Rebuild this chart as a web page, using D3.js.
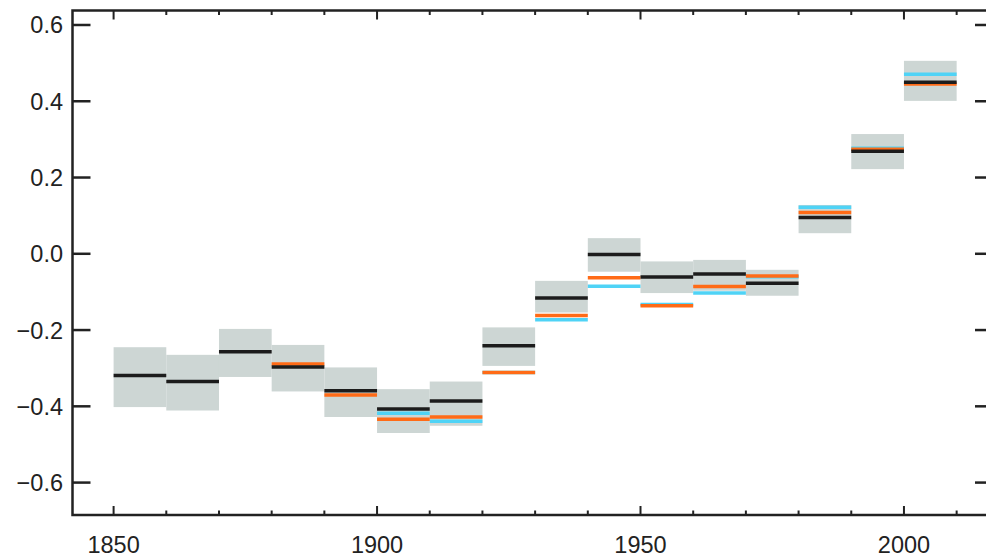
<!DOCTYPE html>
<html>
<head>
<meta charset="utf-8">
<script src="https://cdn.jsdelivr.net/npm/d3@7"></script>
<style>
  body { margin: 0; background: #fff; }
  svg { display: block; }
  text { font-family: "Liberation Sans", Arial, sans-serif; fill: #222; }
</style>
</head>
<body>
<div class="canvas"></div>
<script>
// decadal values (start year of each decade)
const decades = [1850, 1860, 1870, 1880, 1890, 1900, 1910, 1920, 1930, 1940, 1950, 1960, 1970, 1980, 1990, 2000];
const bandTop = [-0.245, -0.265, -0.197, -0.239, -0.298, -0.355, -0.335, -0.193, -0.071, 0.041, -0.020, -0.016, -0.042, 0.128, 0.314, 0.506];
const bandBottom = [-0.402, -0.411, -0.323, -0.361, -0.428, -0.470, -0.451, -0.294, -0.154, -0.047, -0.103, -0.097, -0.110, 0.054, 0.222, 0.401];
const blackSeries = [-0.319, -0.335, -0.257, -0.297, -0.359, -0.407, -0.386, -0.241, -0.116, -0.002, -0.061, -0.053, -0.077, 0.095, 0.269, 0.450];
const orangeSeries = [null, null, null, -0.289, -0.370, -0.434, -0.428, -0.311, -0.162, -0.063, -0.136, -0.086, -0.058, 0.108, 0.274, 0.445];
const cyanSeries = [null, null, null, null, null, -0.418, -0.439, -0.311, -0.173, -0.085, -0.133, -0.103, -0.060, 0.122, 0.277, 0.471];

const yTicks = [-0.6, -0.4, -0.2, 0.0, 0.2, 0.4, 0.6];
const xMajor = [1850, 1900, 1950, 2000];
const xMinor = d3.range(1850, 2011, 10);

const dims = { width: 986, height: 559 };
const plot = { left: 72.5, right: 993, top: 10.5, bottom: 515 };

const svg = d3
    .select(".canvas")
    .append("svg")
    .attr("width", dims.width)
    .attr("height", dims.height);

const x = d3.scaleLinear().domain([1842.2, 2016.9]).range([plot.left, plot.right]);
const y = d3.scaleLinear().domain([-0.685, 0.638]).range([plot.bottom, plot.top]);

const rows = decades.map((d, i) => ({
    year: d,
    top: bandTop[i],
    bottom: bandBottom[i],
    black: blackSeries[i],
    orange: orangeSeries[i],
    cyan: cyanSeries[i]
}));

// uncertainty boxes
svg.append("g")
    .selectAll("rect")
    .data(rows)
    .join("rect")
    .attr("x", (d) => x(d.year))
    .attr("width", (d) => x(d.year + 10) - x(d.year))
    .attr("y", (d) => y(d.top))
    .attr("height", (d) => y(d.bottom) - y(d.top))
    .attr("fill", "#cdd6d4");

// decade lines: cyan, then orange, then black on top
const drawLines = (key, colour) => {
    svg.append("g")
        .selectAll("line")
        .data(rows.filter((d) => d[key] !== null))
        .join("line")
        .attr("x1", (d) => x(d.year))
        .attr("x2", (d) => x(d.year + 10))
        .attr("y1", (d) => y(d[key]))
        .attr("y2", (d) => y(d[key]))
        .attr("stroke", colour)
        .attr("stroke-width", 3.5);
};
drawLines("cyan", "#4fd3f6");
drawLines("orange", "#ff6b17");
drawLines("black", "#1c1c1c");

// frame
const axisColour = "#222";
svg.append("rect")
    .attr("x", plot.left)
    .attr("y", plot.top)
    .attr("width", plot.right - plot.left)
    .attr("height", plot.bottom - plot.top)
    .attr("fill", "none")
    .attr("stroke", axisColour)
    .attr("stroke-width", 2.5);

// y ticks on both sides, pointing inward
const yt = svg.append("g").attr("stroke", axisColour).attr("stroke-width", 2.5);
yTicks.forEach((v) => {
    yt.append("line").attr("x1", plot.left).attr("x2", plot.left + 18).attr("y1", y(v)).attr("y2", y(v));
    yt.append("line").attr("x1", plot.right).attr("x2", plot.right - 18).attr("y1", y(v)).attr("y2", y(v));
});

// x ticks on top and bottom, pointing inward
const xt = svg.append("g").attr("stroke", axisColour).attr("stroke-width", 2);
xMinor.forEach((v) => {
    const len = xMajor.includes(v) ? 9 : 4.5;
    xt.append("line").attr("x1", x(v)).attr("x2", x(v)).attr("y1", plot.top).attr("y2", plot.top + len);
    xt.append("line").attr("x1", x(v)).attr("x2", x(v)).attr("y1", plot.bottom).attr("y2", plot.bottom - len);
});

// labels
const fmt = (v) => d3.format(".1f")(v).replace("-", "\u2212");
svg.append("g")
    .selectAll("text")
    .data(yTicks)
    .join("text")
    .attr("x", 63)
    .attr("y", (d) => y(d))
    .attr("dy", "0.36em")
    .attr("text-anchor", "end")
    .attr("font-size", 23.5)
    .text(fmt);

svg.append("g")
    .selectAll("text")
    .data(xMajor)
    .join("text")
    .attr("x", (d) => x(d))
    .attr("y", 553)
    .attr("text-anchor", "middle")
    .attr("font-size", 23.5)
    .text((d) => d);
</script>
</body>
</html>
